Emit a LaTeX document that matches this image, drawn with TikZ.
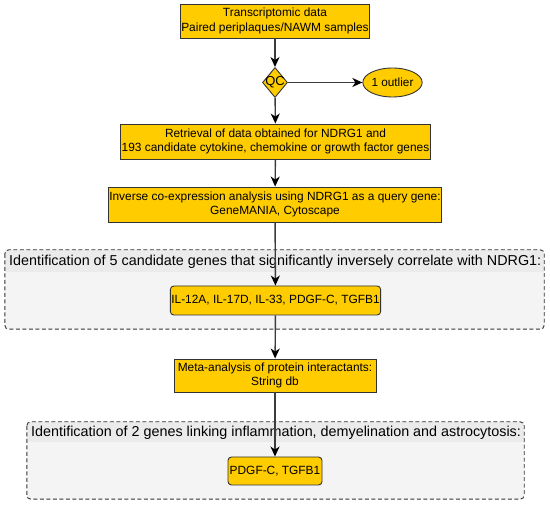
\documentclass[tikz,border=0pt]{standalone}
\usepackage{fontspec}
\setmainfont{Liberation Sans}
\usetikzlibrary{shapes.geometric,arrows.meta}
\definecolor{boxy}{HTML}{FFCC00}
\definecolor{bord}{HTML}{333333}
\definecolor{cfill}{HTML}{F5F4F5}
\definecolor{hfill}{HTML}{EBEBEB}
\definecolor{lin}{HTML}{3C3C3C}
\tikzset{
  stepbox/.style={draw=bord, fill=boxy, line width=0.9pt, align=center, inner sep=1pt, font=\fontsize{11.9}{14.8}\selectfont},
  genebox/.style={stepbox, rounded corners=3.5pt},
  qcshape/.style={draw=bord, fill=boxy, line width=0.9pt, diamond, inner sep=0pt, minimum width=25pt, minimum height=30pt},
  outshape/.style={draw=bord, fill=boxy, line width=0.9pt, ellipse, inner sep=0pt, minimum width=47pt, minimum height=29pt, font=\fontsize{11.8}{14}\selectfont},
  contbox/.style={fill=cfill, inner sep=0pt},
  conttitle/.style={anchor=west, inner sep=0pt, font=\fontsize{14.35}{16}\selectfont},
  flow/.style={draw=lin, line width=1.4pt, -{Stealth[length=10pt,width=9pt,inset=3pt,color=black]}},
}
\begin{document}
\begin{tikzpicture}[x=1pt,y=-1pt]
\useasboundingbox (0,0) rectangle (550,505);
% containers
\node[contbox, minimum width=539pt, minimum height=79pt] (g1) at (274.5,289.5) {};
\fill[hfill] ([yshift=-22pt]g1.north west) [rounded corners=4pt] -- (g1.north west) -- (g1.north east) [sharp corners] -- ([yshift=-22pt]g1.north east) -- cycle;
\draw[bord, dashed, line width=0.9pt, rounded corners=4pt, dash pattern=on 4pt off 2.5pt] (g1.north west) rectangle (g1.south east);
\node[conttitle] (t1) at (9,261.5) {Identification of 5 candidate genes that significantly inversely correlate with NDRG1:};

\node[contbox, minimum width=497pt, minimum height=77pt] (g2) at (275.5,460.5) {};
\fill[hfill] ([yshift=-20pt]g2.north west) [rounded corners=4pt] -- (g2.north west) -- (g2.north east) [sharp corners] -- ([yshift=-20pt]g2.north east) -- cycle;
\draw[bord, dashed, line width=0.9pt, rounded corners=4pt, dash pattern=on 4pt off 2.5pt] (g2.north west) rectangle (g2.south east);
\node[conttitle] (t2) at (31,433) {Identification of 2 genes linking inflammation, demyelination and astrocytosis:};

% steps
\node[stepbox, minimum width=188pt, minimum height=34pt] (b1) at (275,21) {Transcriptomic data\\Paired periplaques/NAWM samples};
\node[qcshape, label={[font=\fontsize{13}{14}\selectfont]center:QC}] (qc) at (275,82.5) {};
\node[outshape] (out) at (392.5,82.5) {1 outlier};
\node[stepbox, minimum width=305pt, minimum height=35pt] (b2) at (275.5,141.5) {Retrieval of data obtained for NDRG1 and\\193 candidate cytokine, chemokine or growth factor genes};
\node[stepbox, minimum width=330pt, minimum height=35pt] (b3) at (275,204.5) {Inverse co-expression analysis using NDRG1 as a query gene:\\GeneMANIA, Cytoscape};
\node[genebox, minimum width=207pt, minimum height=29pt] (il) at (275.5,300.5) {IL-12A, IL-17D, IL-33, PDGF-C, TGFB1};
\node[stepbox, minimum width=202pt, minimum height=33pt] (b4) at (275,375.5) {Meta-analysis of protein interactants:\\String db};
\node[genebox, minimum width=94pt, minimum height=28pt] (pd) at (275,471) {PDGF-C, TGFB1};

% connectors
\draw[flow] (b1) -- (qc);
\draw[flow] (qc) -- (out);
\draw[flow] (qc) -- (b2);
\draw[flow] (b2) -- (b3);
\draw[flow] (b3) -- (il);
\draw[flow] (il) -- (b4);
\draw[flow] (b4) -- (pd);
\end{tikzpicture}
\end{document}
